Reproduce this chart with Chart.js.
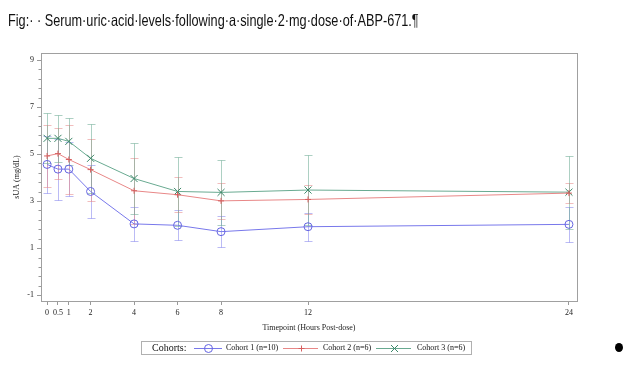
<!DOCTYPE html>
<html><head><meta charset="utf-8">
<script src="https://cdn.jsdelivr.net/npm/chart.js@4.4.1/dist/chart.umd.min.js"></script>
<style>
html,body{margin:0;padding:0;background:#fff;width:624px;height:379px;overflow:hidden;}
#wrap{position:absolute;left:0;top:0;width:624px;height:379px;}
#title{position:absolute;left:8px;top:11px;font-family:"Liberation Sans",Arial,sans-serif;font-size:16.5px;color:#111;white-space:nowrap;transform:scaleX(0.77);transform-origin:0 0;}
#dot{position:absolute;left:615px;top:343px;width:8px;height:9px;border-radius:50%;background:#000;}
</style></head><body>
<div id="wrap"><canvas id="c" width="624" height="379"></canvas></div>
<div id="title">Fig:· · Serum·uric·acid·levels·following·a·single·2·mg·dose·of·ABP-671.¶</div>
<div id="dot"></div>
<script>
// ---- data ----
const hours = [0, 0.5, 1, 2, 4, 6, 8, 12, 24];
const xTickLabels = ['0', '0.5', '1', '2', '4', '6', '8', '12', '24'];
const yTickValues = [-1, 1, 3, 5, 7, 9];
const yMinorTicks = [-0.6, -0.2, 0.2, 0.6, 1.4, 1.8, 2.2, 2.6, 3.4, 3.8, 4.2, 4.6, 5.4, 5.8, 6.2, 6.6, 7.4, 7.8, 8.2, 8.6];
const cohortNames = ['Cohort 1 (n=10)', 'Cohort 2 (n=6)', 'Cohort 3 (n=6)'];
const legendTitle = 'Cohorts:';
const xTitle = 'Timepoint (Hours Post-dose)';
const yTitle = 'sUA (mg/dL)';

const cohort1Mean = [4.56, 4.36, 4.36, 3.41, 2.03, 1.97, 1.70, 1.91, 2.01];
const cohort1SD   = [1.22, 1.30, 1.16, 1.14, 0.72, 0.63, 0.65, 0.59, 0.73];
const cohort2Mean = [4.92, 5.02, 4.77, 4.34, 3.44, 3.27, 3.01, 3.07, 3.34];
const cohort2SD   = [1.33, 1.10, 1.47, 1.32, 1.40, 0.74, 0.76, 0.63, 0.43];
const cohort3Mean = [5.67, 5.67, 5.54, 4.82, 3.96, 3.41, 3.37, 3.47, 3.38];
const cohort3SD   = [1.06, 0.99, 1.00, 1.48, 1.53, 1.47, 1.37, 1.49, 1.55];

// ---- styles ----
const C1 = 'rgb(120,120,235)', C1m = 'rgb(100,100,225)', C1e = 'rgba(120,120,235,0.5)';
const C2 = 'rgb(232,135,135)', C2m = 'rgb(215,95,95)',  C2e = 'rgba(232,135,135,0.55)';
const C3 = 'rgb(105,170,145)', C3m = 'rgb(60,135,105)', C3e = 'rgba(105,170,145,0.55)';
const serif = '"Liberation Serif","Times New Roman",serif';

function pts(mean){ return hours.map((h, i) => ({x: h, y: mean[i]})); }

const errorBars = {
  id: 'errorBars',
  beforeDatasetsDraw(chart){
    const {ctx, scales: {x, y}} = chart;
    chart.data.datasets.forEach(ds => {
      ctx.save();
      ctx.strokeStyle = ds.errColor; ctx.lineWidth = 1;
      ds.data.forEach((p, i) => {
        const px = Math.round(x.getPixelForValue(p.x)) + 0.5;
        const t = Math.round(y.getPixelForValue(p.y + ds.sd[i])) + 0.5;
        const b = Math.round(y.getPixelForValue(p.y - ds.sd[i])) + 0.5;
        ctx.beginPath();
        ctx.moveTo(px, t); ctx.lineTo(px, b);
        ctx.moveTo(px - 4, t); ctx.lineTo(px + 4, t);
        ctx.moveTo(px - 4, b); ctx.lineTo(px + 4, b);
        ctx.stroke();
      });
      ctx.restore();
    });
  }
};

const frame = {
  id: 'frame',
  afterDraw(chart){
    const {ctx, chartArea: a, scales: {y}} = chart;
    ctx.save();
    ctx.strokeStyle = '#a0a0a0'; ctx.lineWidth = 1;
    ctx.strokeRect(Math.round(a.left) + 0.5, Math.round(a.top) + 0.5, Math.round(a.right - a.left), Math.round(a.bottom - a.top));
    ctx.strokeStyle = '#999';
    ctx.beginPath();
    yMinorTicks.forEach(v => {
      const py = Math.round(y.getPixelForValue(v)) + 0.5;
      ctx.moveTo(a.left - 2.5, py); ctx.lineTo(a.left, py);
    });
    ctx.stroke();
    ctx.restore();
  }
};

function marker(ctx, style, cx, cy, color){
  ctx.save(); ctx.strokeStyle = color; ctx.lineWidth = 1;
  ctx.beginPath();
  if (style === 'circle') { ctx.arc(cx, cy, 4, 0, Math.PI * 2); }
  else if (style === 'cross') { ctx.moveTo(cx - 3, cy); ctx.lineTo(cx + 3, cy); ctx.moveTo(cx, cy - 3); ctx.lineTo(cx, cy + 3); }
  else { ctx.moveTo(cx - 3.5, cy - 3.5); ctx.lineTo(cx + 3.5, cy + 3.5); ctx.moveTo(cx - 3.5, cy + 3.5); ctx.lineTo(cx + 3.5, cy - 3.5); }
  ctx.stroke(); ctx.restore();
}

const legendBox = {
  id: 'legendBox',
  afterDraw(chart){
    const ctx = chart.ctx;
    const cy = 348;
    ctx.save();
    ctx.strokeStyle = '#b0b0b0'; ctx.lineWidth = 1;
    ctx.strokeRect(141.5, 341.5, 330, 13);
    ctx.fillStyle = '#111'; ctx.textBaseline = 'middle';
    ctx.font = '10px ' + serif;
    ctx.fillText(legendTitle, 152, cy);
    const slots = [{x0: 194, x1: 222, tx: 226}, {x0: 283, x1: 318, tx: 323}, {x0: 376, x1: 411, tx: 417}];
    ctx.font = '8px ' + serif;
    chart.data.datasets.forEach((ds, i) => {
      const s = slots[i];
      ctx.strokeStyle = ds.borderColor; ctx.lineWidth = 1;
      ctx.beginPath(); ctx.moveTo(s.x0, cy + 0.5); ctx.lineTo(s.x1, cy + 0.5); ctx.stroke();
      marker(ctx, ds.pointStyle, Math.round((s.x0 + s.x1) / 2) + 0.5, cy + 0.5, ds.pointBorderColor);
      ctx.fillStyle = '#111';
      ctx.fillText(ds.label, s.tx, cy);
    });
    ctx.restore();
  }
};

new Chart(document.getElementById('c'), {
  type: 'line',
  data: {
    datasets: [
      {label: cohortNames[0], data: pts(cohort1Mean), sd: cohort1SD, errColor: C1e, borderColor: C1, backgroundColor: C1,
       pointStyle: 'circle', pointRadius: 4, pointBorderColor: C1m, pointBackgroundColor: 'rgba(0,0,0,0)', pointBorderWidth: 1, borderWidth: 1},
      {label: cohortNames[1], data: pts(cohort2Mean), sd: cohort2SD, errColor: C2e, borderColor: C2, backgroundColor: C2,
       pointStyle: 'cross', pointRadius: 3, pointBorderColor: C2m, pointBorderWidth: 1, borderWidth: 1},
      {label: cohortNames[2], data: pts(cohort3Mean), sd: cohort3SD, errColor: C3e, borderColor: C3, backgroundColor: C3,
       pointStyle: 'crossRot', pointRadius: 5, pointBorderColor: C3m, pointBorderWidth: 1, borderWidth: 1}
    ]
  },
  options: {
    responsive: false, animation: false,
    layout: {padding: {top: 53, right: 47, bottom: 42, left: 0}},
    plugins: {legend: {display: false}, tooltip: {enabled: false}},
    scales: {
      x: {
        type: 'linear', min: -0.28, max: 24.37,
        afterBuildTicks: s => { s.ticks = hours.map(v => ({value: v})); },
        afterFit: s => { s.height = 36; },
        ticks: {autoSkip: false, maxRotation: 0, padding: 3, color: '#222', font: {family: serif, size: 8},
                callback: v => xTickLabels[hours.indexOf(v)]},
        grid: {drawOnChartArea: false, tickLength: 4, color: '#999'},
        border: {color: '#a0a0a0'},
        title: {display: true, text: xTitle, color: '#222', font: {family: serif, size: 8}, padding: {top: 0, bottom: 4}}
      },
      y: {
        type: 'linear', min: -1.25, max: 9.3,
        afterBuildTicks: s => { s.ticks = yTickValues.map(v => ({value: v})); },
        afterFit: s => { s.width = 41; },
        ticks: {padding: 3, color: '#222', font: {family: serif, size: 8}, callback: v => String(v)},
        grid: {drawOnChartArea: false, tickLength: 4, color: '#999'},
        border: {color: '#a0a0a0'},
        title: {display: true, text: yTitle, color: '#222', font: {family: serif, size: 8}, padding: {top: 12, bottom: 0}}
      }
    }
  },
  plugins: [errorBars, frame, legendBox]
});
</script>
</body></html>
